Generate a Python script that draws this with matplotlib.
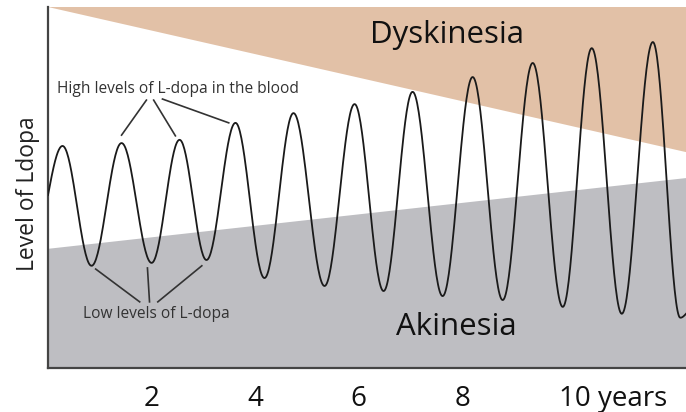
import numpy as np
import matplotlib
matplotlib.use("Agg")
import matplotlib.pyplot as plt
import matplotlib.transforms as mtransforms

plt.rcParams['font.family'] = ['Open Sans', 'DejaVu Sans']

# L-dopa level over years (0-100 scale), read at peaks and troughs
peak_years = [0.28, 1.42, 2.54, 3.62, 4.74, 5.92, 7.04, 8.20, 9.36, 10.50, 11.68]
peak_levels = [61.5, 62.3, 63.2, 67.9, 70.6, 73.1, 76.5, 80.6, 84.5, 88.6, 90.3]
trough_years = [0.84, 2.00, 3.06, 4.18, 5.34, 6.48, 7.62, 8.78, 9.94, 11.08, 12.21]
trough_levels = [28.3, 29.1, 29.9, 24.9, 22.7, 21.3, 19.9, 18.8, 16.9, 15.0, 13.9]
start_year, start_level = 0.0, 47.9
end_year, end_level = 12.32, 15.0

# zone boundaries (level at year 0 and at the right edge)
dysk_edge = [100.0, 59.8]
akin_edge = [33.0, 52.6]

tick_years = [2, 4, 6, 8, 10]
tick_labels = ['2', '4', '6', '8', '10 years']

# build the curve: start -> peak -> trough -> ... -> end, eased between extremes
ext_x = [start_year]
ext_y = [start_level]
for px, py, tx, ty in zip(peak_years, peak_levels, trough_years, trough_levels):
    ext_x += [px, tx]
    ext_y += [py, ty]
ext_x.append(end_year)
ext_y.append(end_level)

xs, ys = [], []
for i in range(len(ext_x) - 1):
    t = np.linspace(0, 1, 40)
    if i == 0:
        ease = np.sin(t * np.pi / 2)
    elif i == len(ext_x) - 2:
        ease = 1 - np.cos(t * np.pi / 2)
    else:
        ease = 0.5 - 0.5 * np.cos(t * np.pi)
    xs.append(ext_x[i] + (ext_x[i + 1] - ext_x[i]) * t)
    ys.append(ext_y[i] + (ext_y[i + 1] - ext_y[i]) * ease)
xs = np.concatenate(xs)
ys = np.concatenate(ys)

fig = plt.figure(figsize=(6.86, 4.12), dpi=100)
ax = fig.add_axes([0.070, 0.107, 0.930, 0.876])
ax.set_xlim(0, end_year)
ax.set_ylim(0, 100)

ax.fill([0, end_year, end_year], [dysk_edge[0], dysk_edge[1], 100], color='#E2C1A7', lw=0, zorder=1)
ax.fill([0, end_year, end_year, 0], [akin_edge[0], akin_edge[1], 0, 0], color='#BEBEC2', lw=0, zorder=1)

ax.plot(xs, ys, color='#1a1a1a', lw=1.3, zorder=3)

ax.text(7.70, 92.2, 'Dyskinesia', fontsize=22.5, ha='center', va='center', color='#111111')
ax.text(7.89, 11.4, 'Akinesia', fontsize=22.5, ha='center', va='center', color='#111111')

ax.text(0.18, 77.3, 'High levels of L-dopa in the blood', fontsize=11.2, ha='left', va='center', color='#333333')
ax.text(0.67, 15.0, 'Low levels of L-dopa', fontsize=11.2, ha='left', va='center', color='#333333')

high_lines = [((1.90, 74.2), (1.42, 64.5)), ((2.04, 74.2), (2.46, 64.3)), ((2.21, 74.5), (3.49, 67.9))]
low_lines = [((0.92, 27.4), (1.77, 18.3)), ((1.92, 27.7), (1.96, 18.3)), ((2.97, 28.3), (2.12, 18.3))]
for (x0, y0), (x1, y1) in high_lines + low_lines:
    ax.plot([x0, x1], [y0, y1], color='#333333', lw=1.2, zorder=4)

for s in ['top', 'right']:
    ax.spines[s].set_visible(False)
for s in ['left', 'bottom']:
    ax.spines[s].set_color('#444444')
    ax.spines[s].set_linewidth(1.6)

ax.set_yticks([])
ax.set_xticks(tick_years)
ax.set_xticklabels(tick_labels, fontsize=20, color='#111111')
ax.tick_params(axis='x', length=0, pad=12)
last = ax.get_xticklabels()[-1]
last.set_horizontalalignment('left')
last.set_transform(last.get_transform() + mtransforms.ScaledTranslation(-0.07, 0, fig.dpi_scale_trans))

ax.set_ylabel('Level of Ldopa', fontsize=16.5, color='#222222')
ax.yaxis.set_label_coords(-0.012, 0.482)

fig.savefig('out.png', dpi=100)
